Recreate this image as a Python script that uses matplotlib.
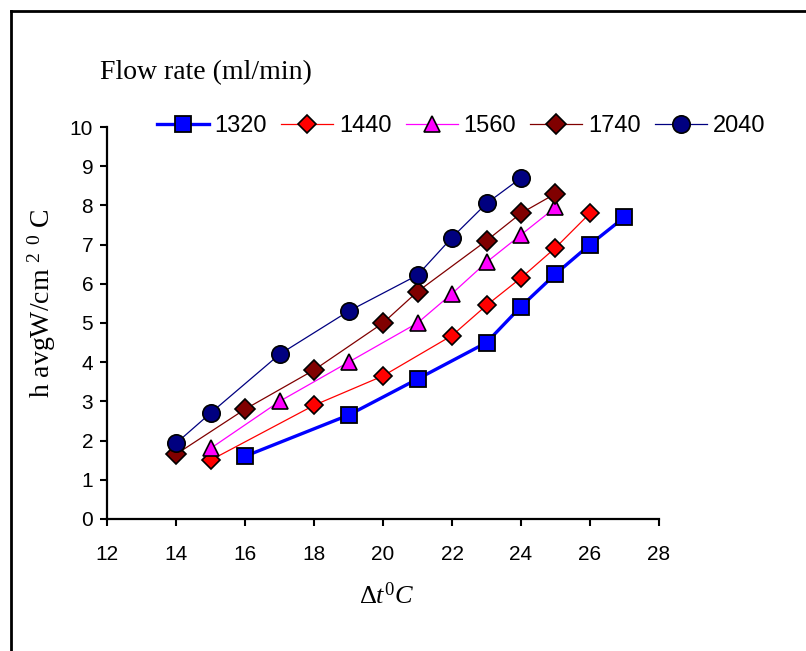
import matplotlib
matplotlib.use("Agg")
import matplotlib.pyplot as plt
from matplotlib.lines import Line2D

plt.rcParams["font.family"] = ["Liberation Sans", "DejaVu Sans"]
plt.rcParams["mathtext.fontset"] = "custom"
plt.rcParams["mathtext.rm"] = "Liberation Serif"
plt.rcParams["mathtext.it"] = "Liberation Serif:italic"

# delta t (deg C) and h avg for each flow rate (ml/min)
x_1320 = [16, 19, 21, 23, 24, 25, 26, 27]
h_1320 = [1.6, 2.65, 3.57, 4.5, 5.42, 6.25, 7.0, 7.7]

x_1440 = [15, 18, 20, 22, 23, 24, 25, 26]
h_1440 = [1.5, 2.9, 3.65, 4.68, 5.45, 6.15, 6.92, 7.8]

x_1560 = [15, 17, 19, 21, 22, 23, 24, 25]
h_1560 = [1.8, 3.0, 4.0, 5.0, 5.75, 6.55, 7.25, 7.95]

x_1740 = [14, 16, 18, 20, 21, 23, 24, 25]
h_1740 = [1.65, 2.8, 3.8, 5.0, 5.8, 7.1, 7.8, 8.3]

x_2040 = [14, 15, 17, 19, 21, 22, 23, 24]
h_2040 = [1.93, 2.7, 4.2, 5.3, 6.22, 7.18, 8.05, 8.7]

x_ticks = [12, 14, 16, 18, 20, 22, 24, 26, 28]
y_ticks = [0, 1, 2, 3, 4, 5, 6, 7, 8, 9, 10]

fig = plt.figure(figsize=(8.06, 6.51), dpi=100)
ax = fig.add_axes([0.1328, 0.2028, 0.6848, 0.6021])

ax.plot(x_1320, h_1320, color="#0000FF", lw=2.4, marker="s", ms=12,
        mfc="#0000FF", mec="black", mew=1.3, label="1320", zorder=3)
ax.plot(x_1440, h_1440, color="#FF0000", lw=0.9, marker="D", ms=9.5,
        mfc="#FF0000", mec="black", mew=1.2, label="1440", zorder=3)
ax.plot(x_1560, h_1560, color="#FF00FF", lw=0.9, marker="^", ms=12,
        mfc="#FF00FF", mec="black", mew=1.2, label="1560", zorder=3)
ax.plot(x_1740, h_1740, color="#800000", lw=0.9, marker="D", ms=10.5,
        mfc="#800000", mec="black", mew=1.2, label="1740", zorder=3)
ax.plot(x_2040, h_2040, color="#000080", lw=0.9, marker="o", ms=12.5,
        mfc="#000080", mec="black", mew=1.2, label="2040", zorder=3)

ax.set_xlim(12, 28)
ax.set_ylim(0, 10)
ax.set_xticks(x_ticks)
ax.set_yticks(y_ticks)
ax.tick_params(direction="out", length=5, width=1.5, labelsize=15, pad=14)
ax.tick_params(axis="y", pad=5)
for side in ["top", "right"]:
    ax.spines[side].set_visible(False)
for side in ["left", "bottom"]:
    ax.spines[side].set_linewidth(1.6)
ax.patch.set_alpha(0)

fig.text(0.052, 0.535, r"h avgW/cm $^{2}$ $^{0}$ C", rotation=90, ha="center",
         va="center", family="Liberation Serif", fontsize=20)
fig.text(0.480, 0.0845, r"$\Delta t^{0}C$", ha="center", va="center",
         fontsize=19)
fig.text(0.124, 0.889, "Flow rate (ml/min)", ha="left", va="center",
         family="Liberation Serif", fontsize=20)

fig.legend(loc="center", bbox_to_anchor=(0.572, 0.806), ncol=5, frameon=False,
           fontsize=17, handlelength=2.2, columnspacing=0.6, handletextpad=0.25,
           borderaxespad=0)

# outer frame (only top and left edges visible)
fig.add_artist(Line2D([0.0137, 1.0], [0.983, 0.983], color="black", lw=2,
                      transform=fig.transFigure))
fig.add_artist(Line2D([0.0137, 0.0137], [0.0, 0.983], color="black", lw=2,
                      transform=fig.transFigure))

fig.savefig("out.png", dpi=100)
